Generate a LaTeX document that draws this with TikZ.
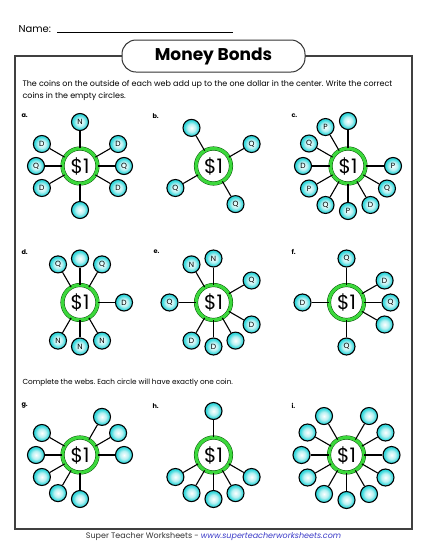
\documentclass[tikz,border=0pt]{standalone}
\usepackage{fontspec}
\setmainfont{Poppins}
\usetikzlibrary{positioning,calc}
\frenchspacing

\definecolor{coincyan}{HTML}{2ED6DA}
\definecolor{ringgreen}{HTML}{3CD83C}
\definecolor{linkblue}{HTML}{3A3AC8}
\pgfdeclareradialshading{coinshade}{\pgfpoint{0bp}{0bp}}{%
  color(0bp)=(white); color(12bp)=(white!65!coincyan);
  color(22bp)=(coincyan); color(50bp)=(coincyan)}

\begin{document}
\begin{tikzpicture}[x=1pt, y=-1pt,
    hub/.style={circle, draw=green!30!black, line width=0.45pt,
                double=ringgreen, double distance=3.2pt, fill=white,
                minimum size=35pt, inner sep=0pt,
                font=\fontsize{20}{20}\selectfont},
    coin/.style={circle, draw=black, line width=1.1pt, shading=coinshade,
                minimum size=17pt, inner sep=0pt,
                font=\fontsize{7.5}{7.5}\selectfont},
    spoke/.style={line width=1.1pt, black},
    tag/.style={anchor=west, font=\fontsize{6.5}{6.5}\selectfont\bfseries},
    say/.style={anchor=west, font=\fontsize{7.3}{12}\selectfont},
    pill/.style={draw=black!80, line width=1pt, fill=white, rounded corners=14pt,
                minimum width=183pt, minimum height=32pt,
                font=\fontsize{17}{17}\selectfont\bfseries},
]

% --- Page and frame ---
\fill[white] (0,0) rectangle (425,550);
\useasboundingbox (0,0) rectangle (425,550);
\draw[black!75, line width=1.2pt] (15,56) rectangle (412,529);
\node[pill] (title) at (213.5,56) {Money Bonds};

% --- Header ---
\node[anchor=base west, font=\fontsize{10}{10}\selectfont] (name) at (15,32) {Name:};
\coordinate (nameend) at (233,32);
\draw[line width=0.6pt] ([xshift=3pt]name.base east) -- (nameend);
\node[say, anchor=north west, align=left, font=\fontsize{8}{12}\selectfont] (intro) at (19,77)
  {The coins on the outside of each web add up to the one dollar in the center. Write the correct\\ coins in the empty circles.};

% --- Webs a, b, c ---
\node[tag] (ta) at (18,116) {a.};
\node[hub] (a) at (80,166) {\$1};
\foreach \ang/\coin in {90/N,30/D,0/Q,330/D,270/{},210/D,180/Q,150/D}{
  \node[coin] (a\ang) at ([shift={(\ang:44pt)}]a) {\coin};
  \draw[spoke] (a) -- (a\ang);
}

\node[tag] (tb) at (149,116) {b.};
\node[hub] (b) at (213.5,166) {\$1};
\foreach \ang/\coin in {120/{},30/Q,210/Q,300/Q}{
  \node[coin] (b\ang) at ([shift={(\ang:44pt)}]b) {\coin};
  \draw[spoke] (b) -- (b\ang);
}

\node[tag] (tc) at (288,116) {c.};
\node[hub] (c) at (348,166) {\$1};
\foreach \ang/\coin in {90/{},120/P,150/Q,180/D,210/P,240/Q,270/P,300/D,330/Q,0/P}{
  \node[coin] (c\ang) at ([shift={(\ang:45pt)}]c) {\coin};
  \draw[spoke] (c) -- (c\ang);
}

% --- Webs d, e, f ---
\node[tag] (td) at (18,252) {d.};
\node[hub] (d) at (80,302.5) {\$1};
\foreach \ang/\coin in {120/Q,90/{},60/Q,0/D,300/N,270/N,240/N}{
  \node[coin] (d\ang) at ([shift={(\ang:44pt)}]d) {\coin};
  \draw[spoke] (d) -- (d\ang);
}

\node[tag] (te) at (150,252) {e.};
\node[hub] (e) at (213.5,302.5) {\$1};
\foreach \ang/\coin in {120/N,90/N,30/Q,180/Q,330/D,300/{},270/D,240/D}{
  \node[coin] (e\ang) at ([shift={(\ang:44pt)}]e) {\coin};
  \draw[spoke] (e) -- (e\ang);
}

\node[tag] (tf) at (288,252) {f.};
\node[hub] (f) at (346.5,302.5) {\$1};
\foreach \ang/\coin in {90/Q,30/D,0/Q,330/{},270/Q,180/D}{
  \node[coin] (f\ang) at ([shift={(\ang:44pt)}]f) {\coin};
  \draw[spoke] (f) -- (f\ang);
}

% --- Webs g, h, i ---
\node[say] (task) at (19,383) {Complete the webs. Each circle will have exactly one coin.};

\node[tag] (tg) at (18,406) {g.};
\node[hub] (g) at (80,455) {\$1};
\foreach \ang in {60,30,0,150,180,210,240,270}{
  \node[coin] (g\ang) at ([shift={(\ang:44pt)}]g) {};
  \draw[spoke] (g) -- (g\ang);
}

\node[tag] (th) at (149,406) {h.};
\node[hub] (h) at (213.5,455) {\$1};
\foreach \ang in {90,210,240,270,300,330}{
  \node[coin] (h\ang) at ([shift={(\ang:44pt)}]h) {};
  \draw[spoke] (h) -- (h\ang);
}

\node[tag] (ti) at (288,406) {i.};
\node[hub] (i) at (346.5,455) {\$1};
\foreach \ang in {0,30,60,120,150,180,210,240,270,300,330}{
  \node[coin] (i\ang) at ([shift={(\ang:45pt)}]i) {};
  \draw[spoke] (i) -- (i\ang);
}

% --- Footer ---
\node[font=\fontsize{8}{8}\selectfont, text=black!80] (footer) at (213.5,537)
  {Super Teacher Worksheets - {\color{linkblue}\itshape www.superteacherworksheets.com}};

\end{tikzpicture}
\end{document}
